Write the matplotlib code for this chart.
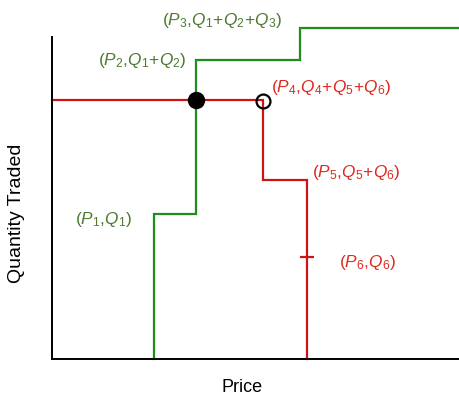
import matplotlib
matplotlib.use("Agg")
import matplotlib.pyplot as plt

plt.rcParams['mathtext.fontset'] = 'custom'
plt.rcParams['mathtext.rm'] = 'Liberation Sans'
plt.rcParams['mathtext.it'] = 'Liberation Sans:italic'
plt.rcParams['font.family'] = ['Liberation Sans', 'DejaVu Sans']

# Supply (green) step points: prices and cumulative quantities
supply_prices = [102, 144, 248]
supply_cumq = [145, 299, 331]
# Demand (red) step points
demand_prices = [211, 255]
demand_cumq = [259, 179]
p6_price = 255
q6 = 102
equilibrium = (144, 259)
open_point = (211, 258)

xmax, ymax = 408, 322

W, H = 460, 396
fig = plt.figure(figsize=(W / 100, H / 100), dpi=100)
ax = fig.add_axes([52 / W, 37 / H, 408 / W, 322 / H])
ax.set_xlim(0, xmax)
ax.set_ylim(0, ymax)
for s in ['top', 'right']:
    ax.spines[s].set_visible(False)
for s in ['left', 'bottom']:
    ax.spines[s].set_linewidth(1.4)
ax.set_xticks([])
ax.set_yticks([])

green = '#1f8c1f'
red = '#cc1414'
glab = '#4e7a30'
rlab = '#dd2a20'

# green supply step
gx = [supply_prices[0]]
gy = [0]
for i, p in enumerate(supply_prices):
    gx += [p, p]
    gy += [gy[-1], supply_cumq[i]]
    if i + 1 < len(supply_prices):
        gx += [supply_prices[i + 1]]
        gy += [supply_cumq[i]]
gx = gx[1:]
gy = gy[1:]
gx = [supply_prices[0]] + gx + [xmax + 5]
gy = [0] + gy + [supply_cumq[-1]]
ax.plot(gx, gy, color=green, lw=1.6, clip_on=False, solid_joinstyle='miter')

# red demand step
rx = [0]
ry = [demand_cumq[0]]
for i, p in enumerate(demand_prices):
    rx += [p, p]
    nxt = demand_cumq[i + 1] if i + 1 < len(demand_cumq) else 0
    ry += [demand_cumq[i], nxt]
ax.plot(rx, ry, color=red, lw=1.6, clip_on=False, solid_joinstyle='miter')

# P6 tick
ax.plot([p6_price], [q6], marker='_', color=red, ms=10, mew=1.6)

# points
ax.plot(*equilibrium, 'o', color='black', ms=11.5, zorder=5)
ax.plot(*open_point, 'o', mfc='none', mec='black', mew=1.6, ms=10, zorder=5, clip_on=False)

fs = 12.4
kw = dict(fontsize=fs, annotation_clip=False, textcoords='offset pixels')
ax.annotate(r'$(P_3,\!Q_1\!+\!Q_2\!+\!Q_3)$', (supply_prices[1], supply_cumq[2]),
            xytext=(26, 8), ha='center', va='center', color=glab, **kw)
ax.annotate(r'$(P_2,\!Q_1\!+\!Q_2)$', (supply_prices[1], supply_cumq[1]),
            xytext=(-9, 0), ha='right', va='center', color=glab, **kw)
ax.annotate(r'$(P_1,\!Q_1)$', (supply_prices[0], supply_cumq[0]),
            xytext=(-22, -5), ha='right', va='center', color=glab, **kw)
ax.annotate(r'$(P_4,\!Q_4\!+\!Q_5\!+\!Q_6)$', (demand_prices[0], demand_cumq[0]),
            xytext=(8, 13), ha='left', va='center', color=rlab, **kw)
ax.annotate(r'$(P_5,\!Q_5\!+\!Q_6)$', (demand_prices[1], demand_cumq[1]),
            xytext=(5, 8), ha='left', va='center', color=rlab, **kw)
ax.annotate(r'$(P_6,\!Q_6)$', (p6_price, q6),
            xytext=(32, -5), ha='left', va='center', color=rlab, **kw)

fig.text(17 / W, 1 - 213 / H, 'Quantity Traded', rotation=90, ha='center', va='center', fontsize=14)
fig.text(242 / W, 1 - 388 / H, 'Price', ha='center', va='center', fontsize=13)

fig.savefig('out.png', dpi=100)
